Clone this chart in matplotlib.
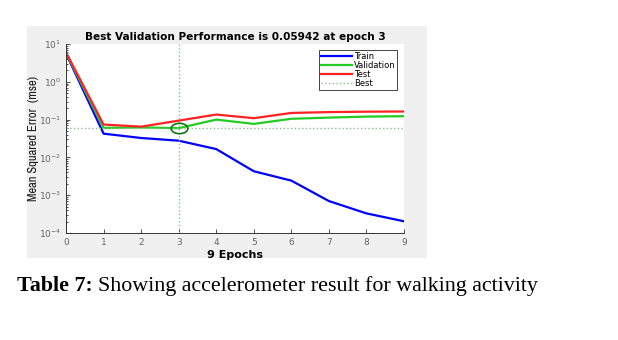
import matplotlib
matplotlib.use("Agg")
import matplotlib.pyplot as plt
from matplotlib.patches import Rectangle
from matplotlib.path import Path
from matplotlib.transforms import Affine2D
from matplotlib.ticker import LogLocator, NullFormatter

epochs = [0, 1, 2, 3, 4, 5, 6, 7, 8, 9]
train = [5.6, 0.0425, 0.0326, 0.0277, 0.0166, 0.0043, 0.00243, 0.0007, 0.00033, 0.000204]
validation = [5.8, 0.0603, 0.062, 0.05942, 0.1, 0.077, 0.105, 0.113, 0.12, 0.123]
test = [6.0, 0.074, 0.065, 0.094, 0.136, 0.109, 0.15, 0.158, 0.162, 0.164]
best_epoch = 3
best_perf = 0.05942
ytick_vals = [1e-4, 1e-3, 1e-2, 1e-1, 1e0, 1e1]
ytick_labels = ["$10^{-4}$", "$10^{-3}$", "$10^{-2}$", "$10^{-1}$", "$10^{0}$", "$10^{1}$"]

W, H = 618, 340
fig = plt.figure(figsize=(W / 100, H / 100), dpi=100)
fig.patch.set_facecolor("white")

# grey figure panel behind the axes
fig.patches.append(Rectangle((27 / W, 1 - 258 / H), 400 / W, 232 / H,
                             transform=fig.transFigure, facecolor="#f0f0f0",
                             edgecolor="none", zorder=-5))

ax = fig.add_axes([66 / W, 1 - 233 / H, 338 / W, 189 / H])
ax.set_zorder(2)
ax.set_facecolor("white")

ax.plot(epochs, train, color="#0000ff", lw=1.6, label="Train")
ax.plot(epochs, validation, color="#22cc22", lw=1.6, label="Validation")
ax.plot(epochs, test, color="#ff2222", lw=1.6, label="Test")
ax.axhline(best_perf, color="#8cbf8c", lw=1.0, ls=":", label="Best")
ax.axvline(best_epoch, color="#8cbf8c", lw=1.0, ls=":")

# flattened circle around the best validation point
oval = Path.unit_circle().transformed(Affine2D().scale(1.0, 0.62))
ax.plot([best_epoch], [best_perf], marker=oval, ls="none", mfc="none",
        mec="#117711", ms=12, mew=1.2)

ax.set_yscale("log")
ax.set_ylim(1e-4, 1e1)
ax.set_xlim(0, 9)
ax.set_xticks(epochs)
ax.set_yticks(ytick_vals)
ax.set_yticklabels(ytick_labels)
ax.yaxis.set_minor_locator(LogLocator(base=10, subs=range(2, 10)))
ax.yaxis.set_minor_formatter(NullFormatter())
ax.tick_params(direction="in", labelsize=6.5, colors="#333333",
               labelcolor="#666666", length=3, width=0.6)
ax.tick_params(which="minor", direction="in", length=1.5, width=0.5)
for s in ["top", "right"]:
    ax.spines[s].set_visible(False)
for s in ["left", "bottom"]:
    ax.spines[s].set_color("#333333")
    ax.spines[s].set_linewidth(0.7)

ax.set_title("Best Validation Performance is 0.05942 at epoch 3",
             fontsize=7.6, fontweight="bold", pad=3)
ax.set_xlabel("9 Epochs", fontsize=8, fontweight="bold", labelpad=2)
ax.set_ylabel("Mean Squared Error  (mse)", fontsize=9, color="#1a1a1a",
              family=["Archivo Narrow", "DejaVu Sans"], fontweight="medium",
              labelpad=0)

leg = ax.legend(loc="upper right", bbox_to_anchor=(0.985, 0.975), fontsize=6,
                handlelength=3.8, handletextpad=0.2, borderpad=0.2,
                labelspacing=0.0, fancybox=False, framealpha=1,
                edgecolor="#444444", borderaxespad=0.2)
leg.get_frame().set_linewidth(0.7)

# caption below the panel
cap_y = 1 - 286 / H
t1 = fig.text(17 / W, cap_y, "Table 7:", fontsize=15.8, fontweight="bold",
              family="Liberation Serif", va="center")
fig.canvas.draw()
bb = t1.get_window_extent()
fig.text(bb.x1 / W + 5 / W, cap_y, "Showing accelerometer result for walking activity",
         fontsize=15.8, family="Liberation Serif", va="center")

fig.savefig("out.png", dpi=100)
